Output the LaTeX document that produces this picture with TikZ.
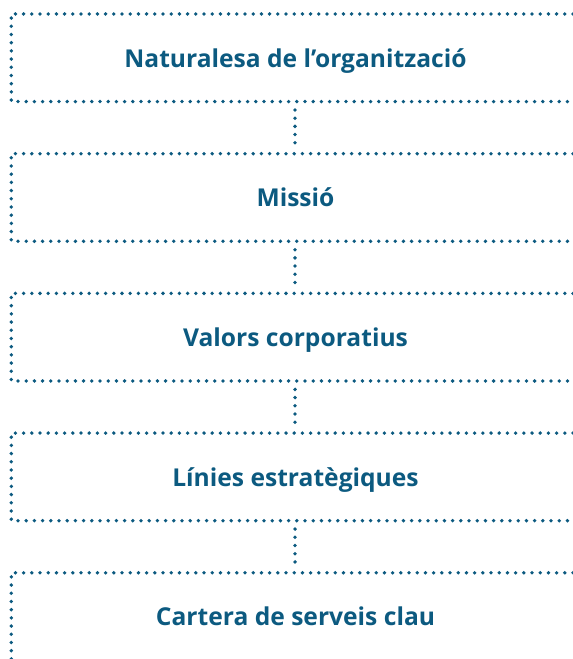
\documentclass[tikz,border=0pt]{standalone}
\usepackage{fontspec}
\setmainfont{Open Sans}
\definecolor{teal}{RGB}{12,90,128}
\begin{document}
\begin{tikzpicture}[x=1pt,y=1pt,
  dotline/.style={draw=teal,line width=3.8pt,line cap=round,dash pattern=on 0pt off 8.2pt},
  label/.style={text=teal,font=\fontsize{24.6}{28}\selectfont\bfseries,anchor=base,inner sep=0pt}]
\useasboundingbox (0,0) rectangle (573,659);
% boxes: top y (px from top)
\foreach \i/\t in {1/14,2/153.7,3/293.4,4/433.1}{
  \coordinate (tl\i) at (11.3,659-\t);
  \coordinate (bl\i) at (11.3,659-\t-87.6);
  \draw[dotline] (573,659-\t) -- (tl\i) -- (bl\i) -- (573,659-\t-87.6);
  \coordinate (cs\i) at (295,659-\t-96);
  \coordinate (ce\i) at (295,659-\t-130.5);
}
\coordinate (tl5) at (11.3,659-572.8);
\coordinate (bl5) at (11.3,0);
\draw[dotline] (573,659-572.8) -- (tl5) -- (bl5);
\node[label] (n1) at (295.5,659-14-53.2) {Naturalesa de l’organització};
\node[label] (n2) at (295.5,659-153.7-53.2) {Missió};
\node[label] (n3) at (295.5,659-293.4-53.2) {Valors corporatius};
\node[label] (n4) at (295.5,659-433.1-53.2) {Línies estratègiques};
\node[label] (n5) at (295.5,659-572.8-53.2) {Cartera de serveis clau};
\foreach \i in {1,...,4}{\draw[dotline] (cs\i) -- (ce\i);}
\end{tikzpicture}
\end{document}
